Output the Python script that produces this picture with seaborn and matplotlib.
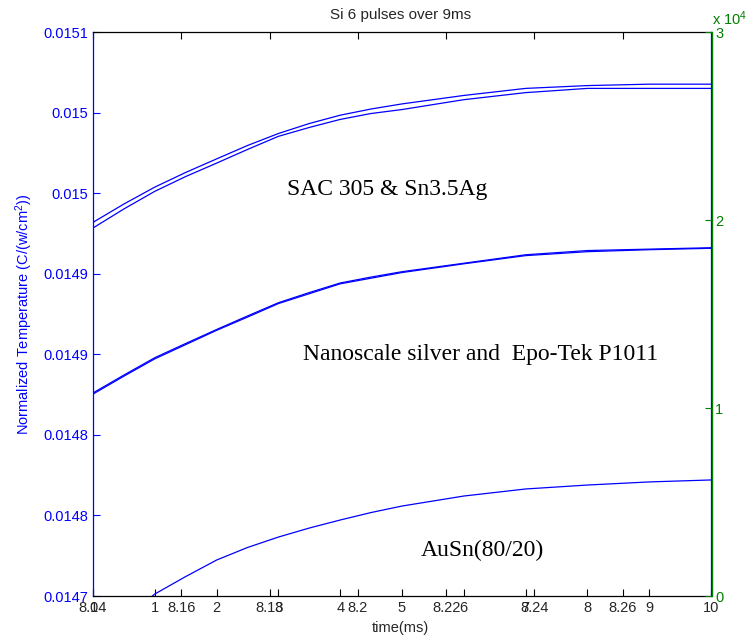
import numpy as np
import pandas as pd
import matplotlib
matplotlib.use("Agg")
import matplotlib.pyplot as plt
import seaborn as sns

# ---------------- data ----------------
time_ms = [0, 0.5, 1, 1.5, 2, 2.5, 3, 3.5, 4, 4.5, 5, 6, 7, 8, 9, 10]
sac305 = [0.014965, 0.014978, 0.014990, 0.0150004, 0.015010, 0.0150195, 0.015028, 0.0150351,
          0.015041, 0.0150454, 0.015049, 0.015055, 0.015060, 0.015062, 0.015063, 0.015063]
sn35ag = [0.014961, 0.0149745, 0.014987, 0.0149975, 0.015007, 0.0150167, 0.015026, 0.0150323,
          0.015038, 0.0150422, 0.015045, 0.015052, 0.015057, 0.015060, 0.015060, 0.015060]
nano_silver = [0.014844, 0.0148567, 0.014869, 0.0148791, 0.014889, 0.0148986, 0.014908, 0.0149152,
               0.014922, 0.0149262, 0.014930, 0.014936, 0.014942, 0.014945, 0.014946, 0.014947]
epotek = [0.0148432, 0.0148559, 0.0148682, 0.0148783, 0.0148884, 0.0148978, 0.0149074, 0.0149144,
          0.0149214, 0.0149254, 0.0149294, 0.0149356, 0.0149414, 0.0149442, 0.0149456, 0.0149466]
ausn = [0.0146652, 0.0146837, 0.0147014, 0.0147138, 0.0147255, 0.0147344, 0.0147418, 0.0147482,
        0.0147539, 0.0147592, 0.0147638, 0.0147709, 0.0147759, 0.0147787, 0.0147809, 0.0147823]

series_names = ["SAC 305", "Sn3.5Ag", "Nanoscale silver", "Epo-Tek P1011", "AuSn(80/20)"]
series_values = [sac305, sn35ag, nano_silver, epotek, ausn]

left_ylim = (0.0147, 0.0151)
left_tick_labels = ["0.0147", "0.0148", "0.0148", "0.0149", "0.0149", "0.015", "0.015", "0.0151"]

time_ticks = [0, 1, 2, 3, 4, 5, 6, 7, 8, 9, 10]
time_tick_labels = ["0", "1", "2", "3", "4", "5", "6", "7", "8", "9", "10"]

x2_lim = (8.14, 8.28)
x2_ticks = [8.14, 8.16, 8.18, 8.20, 8.22, 8.24, 8.26]
x2_tick_labels = ["8.14", "8.16", "8.18", "8.2", "8.22", "8.24", "8.26"]

right_ylim = (0, 30000)
right_ticks = [0, 10000, 20000, 30000]
right_tick_labels = ["0", "1", "2", "3"]

annotations = ["SAC 305 & Sn3.5Ag", "Nanoscale silver and  Epo-Tek P1011", "AuSn(80/20)"]

df = pd.concat([pd.DataFrame({"time": time_ms, "temp": v, "series": n})
                for n, v in zip(series_names, series_values)], ignore_index=True)

# ---------------- style ----------------
sns.set_theme(style="white")
plt.rcParams["font.family"] = ["Liberation Sans", "DejaVu Sans"]
plt.rcParams["mathtext.fontset"] = "custom"
plt.rcParams["mathtext.rm"] = "Liberation Sans"
plt.rcParams["mathtext.it"] = "Liberation Sans"

BLUE = (0, 0, 1)
GREEN = (0, 0.5, 0)
TXT = (0.15, 0.15, 0.15)
FS = 10.5

W, H = 746, 640
fig = plt.figure(figsize=(W / 100, H / 100), dpi=100)
fig.patch.set_facecolor("white")
rect = [93 / W, 44 / H, 618 / W, 564 / H]

# secondary x axis (8.14 - 8.28), drawn beneath
ax2 = fig.add_axes(rect, frameon=False, label="x2")
ax2.set_xlim(*x2_lim)
ax2.set_xticks(x2_ticks)
ax2.set_xticklabels(x2_tick_labels)
ax2.set_yticks([])
ax2.tick_params(axis="x", direction="in", length=5, width=0.8, colors="black",
                labelcolor=TXT, labelsize=FS, pad=3.5, top=True, bottom=True,
                labeltop=False, labelbottom=True)
ax2.patch.set_alpha(0)

# main axes
ax = fig.add_axes(rect, label="main")
ax.patch.set_alpha(0)
for name, g in df.groupby("series", sort=False):
    sns.lineplot(data=g, x="time", y="temp", ax=ax, color=BLUE, linewidth=0.9,
                 estimator=None, sort=False, legend=False)
ax.set_xlim(0, 10)
ax.set_ylim(*left_ylim)
ax.set_xticks(time_ticks)
ax.set_xticklabels(time_tick_labels)
ax.set_yticks(np.linspace(left_ylim[0], left_ylim[1], len(left_tick_labels)))
ax.set_yticklabels(left_tick_labels)
ax.set_xlabel("")
ax.set_ylabel("")
ax.tick_params(axis="x", direction="in", length=5, width=0.8, colors="black",
               labelcolor=TXT, labelsize=FS, pad=3.5, top=False, bottom=True)
ax.tick_params(axis="y", direction="in", length=5, width=0.8, colors=BLUE,
               labelcolor=BLUE, labelsize=FS, pad=3.5, left=True, right=True)
ax.spines["left"].set_color(BLUE)
ax.spines["right"].set_color(BLUE)
ax.spines["top"].set_color("black")
ax.spines["bottom"].set_color("black")
for s in ax.spines.values():
    s.set_linewidth(0.9)

# right green axis
ax3 = ax.twinx()
ax3.set_ylim(*right_ylim)
ax3.set_yticks(right_ticks)
ax3.set_yticklabels(right_tick_labels)
ax3.tick_params(axis="y", direction="in", length=5, width=0.8, colors=GREEN,
                labelcolor=GREEN, labelsize=FS, pad=2)
for k in ["left", "top", "bottom"]:
    ax3.spines[k].set_visible(False)
ax3.spines["right"].set_color(GREEN)
ax3.spines["right"].set_linewidth(1.0)
ax3.spines["right"].set_position(("outward", 1))
fig.text(712 / W, 1 - 19 / H, r"x 10$^{4}$", color=GREEN, fontsize=FS, ha="left", va="center")

# texts
fig.text(401 / W, 1 - 15 / H, "Si 6 pulses over 9ms", color=TXT, fontsize=11, ha="center", va="center")
fig.text(400 / W, 1 - 628 / H, "time(ms)", color=TXT, fontsize=FS, ha="center", va="center")
fig.text(24 / W, 1 - 314 / H, "Normalized Temperature (C/(w/cm$^2$))", color=BLUE, fontsize=FS,
         ha="center", va="center", rotation=90)

serif = ["Liberation Serif", "DejaVu Serif"]
fig.text(287 / W, 1 - 195 / H, annotations[0], fontsize=17, family=serif, ha="left", va="baseline", color="black")
fig.text(303 / W, 1 - 360 / H, annotations[1], fontsize=17, family=serif, ha="left", va="baseline", color="black")
fig.text(421 / W, 1 - 556 / H, annotations[2], fontsize=17, family=serif, ha="left", va="baseline", color="black")

fig.savefig("out.png", dpi=100, facecolor="white")
